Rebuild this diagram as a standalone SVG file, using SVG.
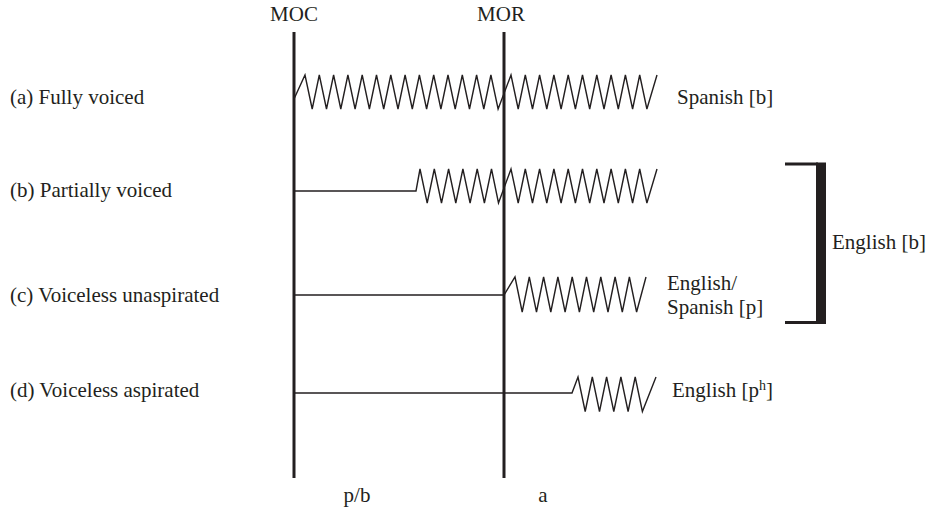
<svg xmlns="http://www.w3.org/2000/svg" width="931" height="514" viewBox="0 0 931 514">
<style>
text{font-family:"Liberation Serif","Times New Roman",serif;font-size:21px;fill:#231f20}
.axis{stroke:#231f20;stroke-width:3;fill:none}
.wave{stroke:#231f20;stroke-width:1.4;fill:none;stroke-linejoin:miter}
.br{stroke:#231f20;stroke-width:3;fill:none}
</style>
<rect width="931" height="514" fill="#fff"/>
<g id="connectors">
<line class="axis" x1="294" y1="32" x2="294" y2="478"/>
<line class="axis" x1="504" y1="32" x2="504" y2="478"/>
<polyline id="wave-a" class="wave" points="294,99 305,75 312.2,109 319.3,75 326.5,109 333.6,75 340.8,109 347.9,75 355.1,109 362.2,75 369.4,109 376.5,75 383.7,109 390.8,75 398,109 405.1,75 412.3,109 419.4,75 426.6,109 433.7,75 440.9,109 448,75 455.2,109 462.3,75 469.5,109 476.6,75 483.8,109 490.9,75 498.1,109 511,75 518.2,109 525.3,75 532.5,109 539.6,75 546.8,109 553.9,75 561.1,109 568.2,75 575.4,109 582.5,75 589.7,109 596.8,75 604,109 611.1,75 618.3,109 625.4,75 632.6,109 639.7,75 646.9,109 657,75"/>
<polyline id="wave-b" class="wave" points="294,191 416,191 420,169 427.2,203 434.3,169 441.5,203 448.6,169 455.8,203 462.9,169 470.1,203 477.2,169 484.4,203 491.5,169 498.5,203 511,169 518.2,203 525.3,169 532.5,203 539.6,169 546.8,203 553.9,169 561.1,203 568.2,169 575.4,203 582.5,169 589.7,203 596.8,169 604,203 611.1,169 618.3,203 625.4,169 632.6,203 639.7,169 646.9,203 657,169"/>
<polyline id="wave-c" class="wave" points="294,295 504,295 515,277 522.2,312 529.3,277 536.5,312 543.6,277 550.8,312 557.9,277 565.1,312 572.2,277 579.4,312 586.5,277 593.7,312 600.8,277 608,312 615.1,277 622.3,312 629.4,277 636.6,312 646,277"/>
<polyline id="wave-d" class="wave" points="294,393 572,393 578,377 585.2,411.5 592.3,377 599.5,411.5 606.6,377 613.8,411.5 620.9,377 628.1,411.5 635.2,377 642.4,411.5 656,377"/>
</g>
<g id="node-bracket">
<path class="br" d="M785,164 H818 M785,322.5 H818"/>
<rect x="816" y="162.5" width="10" height="161.5" fill="#231f20"/>
<text x="832" y="249">English [b]</text>
</g>
<g id="node-moc"><text x="294" y="21" text-anchor="middle">MOC</text></g>
<g id="node-mor"><text x="501" y="21" text-anchor="middle">MOR</text></g>
<g id="node-a-label"><text x="10" y="104">(a) Fully voiced</text></g>
<g id="node-b-label"><text x="10" y="197">(b) Partially voiced</text></g>
<g id="node-c-label"><text x="10" y="302">(c) Voiceless unaspirated</text></g>
<g id="node-d-label"><text x="10" y="397">(d) Voiceless aspirated</text></g>
<g id="node-a-right"><text x="677" y="104">Spanish [b]</text></g>
<g id="node-c-right"><text x="667" y="289.5">English/</text><text x="667" y="314">Spanish [p]</text></g>
<g id="node-d-right"><text x="672" y="397">English [p<tspan font-size="14" dy="-7">h</tspan><tspan dy="7">]</tspan></text></g>
<g id="node-pb"><text x="357" y="502" text-anchor="middle">p/b</text></g>
<g id="node-a"><text x="543" y="502" text-anchor="middle">a</text></g>
</svg>
